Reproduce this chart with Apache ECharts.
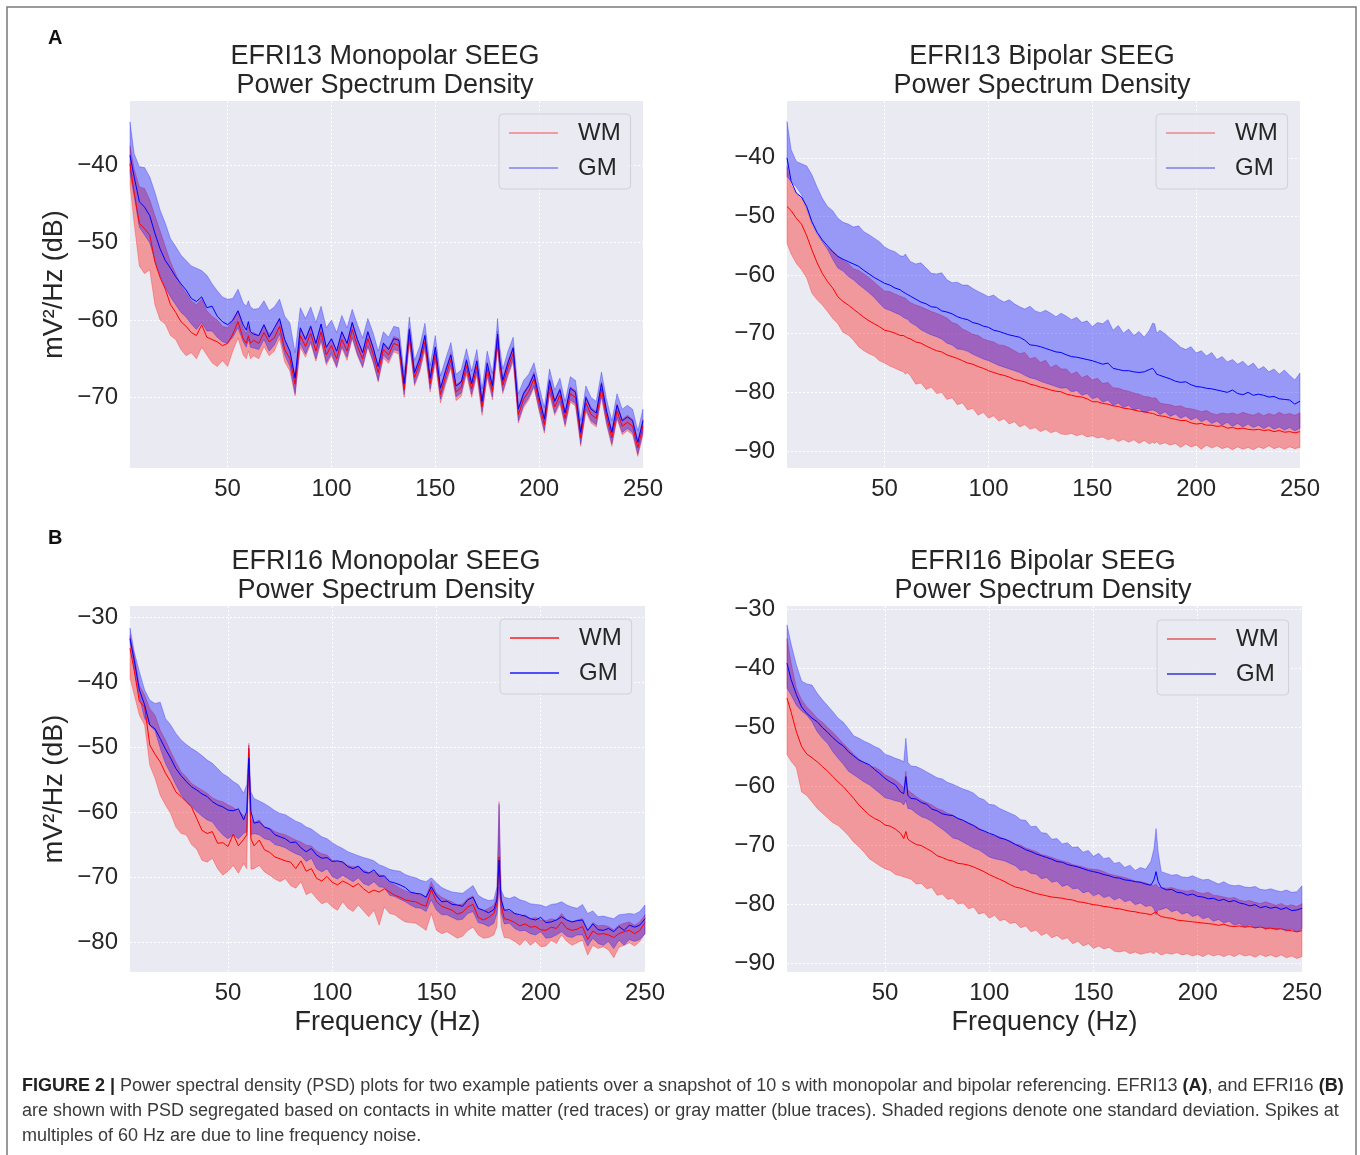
<!DOCTYPE html>
<html>
<head>
<meta charset="utf-8">
<title>PSD monopolar / bipolar SEEG</title>
<script src="https://cdn.jsdelivr.net/npm/echarts@6.0.0/dist/echarts.min.js"></script>
<style>
  html, body { margin: 0; padding: 0; background: #ffffff; }
  #chart { width: 1360px; height: 1155px; }
</style>
</head>
<body>
<div id="chart"></div>
<script>
// frequency grid (Hz) shared by the four panels
var freqHz = [3, 5, 7.5, 10, 12.5, 15, 17.5, 20, 22.5,
  25, 27.5, 30, 32.5, 35, 37.5, 40, 42.5, 45, 47.5,
  50, 52.5, 55, 57.5, 59, 60, 61,
  62.5, 65, 67.5, 70, 72.5, 75, 77.5, 80, 82.5, 85,
  87.5, 90, 92.5, 95, 97.5, 100, 102.5, 105, 107.5, 110,
  112.5, 115, 117.5, 120, 122.5, 125, 127.5, 130, 132.5, 135,
  137.5, 140, 142.5, 145, 147.5, 150, 152.5, 155, 157.5, 160,
  162.5, 165, 167.5, 170, 172.5, 175, 177.5,
  179, 180, 181,
  182.5, 185, 187.5, 190, 192.5, 195, 197.5, 200, 202.5, 205,
  207.5, 210, 212.5, 215, 217.5, 220, 222.5, 225, 227.5, 230,
  232.5, 235, 237.5, 240, 242.5, 245, 247.5, 250];

var freqTicks = [50, 100, 150, 200, 250];
var e13MonoTicks = [-70, -60, -50, -40];
var e13BipTicks = [-90, -80, -70, -60, -50, -40];
var e16MonoTicks = [-80, -70, -60, -50, -40, -30];
var e16BipTicks = [-90, -80, -70, -60, -50, -40, -30];

// ---- EFRI13 monopolar (dB)
var e13MonoGmMean = [-38.7, -41.5, -44.7, -45.4, -46.5, -48.8, -50.8, -52.3, -53.3,
  -54.4, -55.3, -56.1, -57.2, -57.6, -57.0, -58.4, -58.2, -59.5, -60.2,
  -60.6, -60.0, -58.8, -60.6, -61.3, -60.2, -61.5,
  -61.8, -62.0, -60.6, -62.2, -61.0, -59.8, -62.5, -64.0, -67.5, -61.0,
  -62.5, -60.8, -63.0, -60.5, -63.5, -62.4, -64.0, -61.5, -63.0, -60.3,
  -62.5, -64.2, -61.5, -63.5, -66.0, -63.0, -63.8, -62.4, -62.6, -68.2,
  -61.2, -66.8, -65.0, -62.0, -67.5, -63.5, -68.8, -66.5, -64.5, -68.5,
  -68.0, -65.2, -68.2, -65.3, -70.5, -65.6, -68.5,
  -64.5, -61.8, -65.0,
  -67.8, -65.5, -63.6, -71.5, -69.5, -68.5, -67.0, -70.0, -72.8, -67.8,
  -70.5, -69.0, -72.0, -68.8, -69.3, -74.5, -70.0, -71.5, -72.0, -68.2,
  -71.8, -74.5, -71.0, -73.0, -72.5, -73.0, -75.8, -73.0];
var e13MonoGmHi = [-34.4, -38.5, -40.2, -40.3, -41.5, -43.5, -45.8, -47.5, -49.5,
  -50.5, -51.6, -52.3, -53.0, -53.3, -53.6, -54.2, -55.3, -56.2, -57.0,
  -57.3, -57.2, -56.0, -57.8, -58.2, -57.5, -58.3,
  -58.6, -58.5, -57.5, -58.8, -58.3, -57.3, -59.5, -60.4, -64.2, -58.4,
  -59.8, -58.3, -60.3, -58.2, -61.0, -60.0, -61.6, -59.4, -61.0, -58.6,
  -60.6, -62.3, -59.8, -61.6, -64.0, -61.5, -62.2, -60.8, -61.0, -66.8,
  -59.6, -65.2, -63.4, -60.4, -65.9, -62.0, -67.2, -65.0, -62.9, -67.0,
  -66.4, -63.7, -66.6, -63.8, -68.9, -64.0, -66.9,
  -63.0, -59.8, -63.4,
  -66.3, -64.0, -62.2, -69.5, -67.8, -67.0, -65.5, -68.5, -71.3, -66.3,
  -69.0, -67.5, -70.5, -67.3, -67.8, -73.0, -68.5, -70.0, -70.5, -66.7,
  -70.3, -73.0, -69.5, -71.5, -71.0, -71.5, -74.3, -71.5];
var e13MonoGmLo = [-41.0, -44.0, -48.0, -49.0, -50.0, -52.3, -54.3, -55.8, -57.0,
  -58.0, -59.0, -59.6, -60.5, -61.2, -60.3, -61.4, -61.4, -62.2, -62.8,
  -63.0, -62.2, -61.0, -62.8, -63.5, -62.5, -63.5,
  -63.6, -63.8, -62.5, -64.0, -63.2, -61.8, -64.5, -66.0, -69.5, -63.0,
  -64.4, -62.8, -65.0, -62.5, -65.5, -64.3, -66.0, -63.4, -64.8, -62.2,
  -64.4, -66.0, -63.3, -65.3, -67.8, -64.5, -65.2, -63.8, -64.0, -69.6,
  -62.6, -68.2, -66.4, -63.4, -68.9, -65.0, -70.2, -67.9, -65.9, -69.9,
  -69.4, -66.6, -69.6, -66.7, -71.9, -67.0, -69.9,
  -66.0, -63.4, -66.5,
  -69.2, -67.0, -65.0, -73.0, -71.0, -70.0, -68.5, -71.5, -74.3, -69.3,
  -72.0, -70.5, -73.5, -70.3, -70.8, -76.0, -71.5, -73.0, -73.5, -69.7,
  -73.3, -76.0, -72.5, -74.5, -74.0, -74.5, -77.3, -74.5];
var e13MonoWmMean = [-39.8, -43.5, -47.5, -48.2, -49.0, -52.5, -54.5, -56.0, -58.0,
  -59.0, -60.2, -60.8, -61.6, -62.0, -60.6, -62.2, -62.5, -62.8, -63.3,
  -63.0, -61.8, -60.2, -62.4, -63.0, -62.0, -63.0,
  -62.6, -63.0, -61.6, -62.8, -62.3, -60.8, -63.8, -65.0, -68.3, -62.0,
  -63.4, -61.7, -64.0, -61.5, -64.5, -63.3, -65.0, -62.5, -64.0, -61.2,
  -63.4, -65.0, -62.4, -64.3, -66.8, -63.8, -64.5, -63.0, -63.3, -69.0,
  -61.9, -67.4, -65.6, -62.8, -68.2, -64.3, -69.6, -67.2, -65.1, -69.3,
  -68.7, -65.9, -68.9, -66.0, -71.2, -66.3, -69.2,
  -65.2, -62.4, -65.6,
  -68.4, -66.1, -64.3, -72.2, -70.2, -69.2, -67.6, -70.7, -73.5, -68.5,
  -71.2, -69.7, -72.7, -69.5, -70.0, -75.2, -70.7, -72.2, -72.7, -68.9,
  -72.5, -75.2, -71.7, -73.7, -73.2, -73.7, -76.5, -73.7];
var e13MonoWmHi = [-37.5, -40.5, -42.8, -43.0, -44.5, -46.5, -48.5, -50.5, -52.5,
  -54.0, -55.5, -56.5, -57.5, -58.0, -57.3, -58.8, -59.5, -60.0, -60.8,
  -61.0, -60.0, -58.8, -61.0, -61.8, -60.8, -61.8,
  -61.6, -62.0, -60.6, -61.8, -61.3, -59.8, -62.8, -64.0, -67.3, -61.0,
  -62.4, -60.7, -63.0, -60.6, -63.6, -62.4, -64.1, -61.6, -63.1, -60.3,
  -62.5, -64.1, -61.5, -63.4, -65.9, -62.9, -63.6, -62.1, -62.4, -68.0,
  -61.0, -66.5, -64.7, -61.9, -67.3, -63.4, -68.7, -66.3, -64.2, -68.4,
  -67.8, -65.0, -68.0, -65.1, -70.3, -65.4, -68.3,
  -64.3, -61.4, -64.7,
  -67.5, -65.2, -63.4, -71.3, -69.3, -68.3, -66.7, -69.8, -72.6, -67.6,
  -70.3, -68.8, -71.8, -68.6, -69.1, -74.3, -69.8, -71.3, -71.8, -68.0,
  -71.6, -74.3, -70.8, -72.8, -72.3, -72.8, -75.6, -72.8];
var e13MonoWmLo = [-42.5, -47.5, -53.0, -54.0, -53.5, -58.0, -60.0, -60.5, -62.0,
  -62.5, -63.8, -64.6, -64.2, -65.0, -63.5, -64.5, -65.5, -66.0, -65.2,
  -66.0, -64.0, -62.3, -64.5, -65.0, -64.0, -65.0,
  -64.6, -65.0, -63.4, -64.6, -64.0, -62.4, -65.4, -66.6, -69.8, -63.5,
  -64.8, -63.0, -65.3, -62.8, -65.8, -64.6, -66.2, -63.6, -65.2, -62.4,
  -64.6, -66.2, -63.5, -65.4, -68.0, -64.9, -65.6, -64.1, -64.4, -70.0,
  -63.0, -68.5, -66.7, -63.9, -69.3, -65.4, -70.7, -68.3, -66.2, -70.4,
  -69.8, -67.0, -70.0, -67.1, -72.3, -67.4, -70.3,
  -66.3, -63.6, -66.7,
  -69.5, -67.2, -65.4, -73.3, -71.3, -70.3, -68.7, -71.8, -74.6, -69.6,
  -72.3, -70.8, -73.8, -70.6, -71.1, -76.3, -71.8, -73.3, -73.8, -70.0,
  -73.6, -76.3, -72.8, -74.8, -74.3, -74.8, -77.6, -74.8];

// ---- EFRI13 bipolar (dB)
var e13BipGmMean = [-40.0, -44.0, -46.0, -46.7, -48.3, -50.9, -52.7, -54.0, -55.0,
  -56.0, -56.8, -57.3, -57.7, -58.1, -58.5, -59.2, -59.8, -60.4, -60.9,
  -61.4, -61.7, -62.2, -62.5, -62.9, -63.1, -63.3,
  -63.6, -64.1, -64.6, -64.9, -65.4, -65.5, -66.1, -66.3, -66.6, -67.1,
  -67.4, -67.6, -68.1, -68.3, -68.7, -68.9, -69.4, -69.6, -69.9, -70.2,
  -70.4, -70.6, -71.1, -71.9, -72.0, -72.2, -72.5, -72.8, -73.1, -73.2,
  -73.6, -73.9, -74.0, -74.2, -74.4, -74.6, -74.9, -75.2, -75.0, -75.9,
  -76.1, -76.3, -76.3, -76.5, -76.6, -76.5, -76.1,
  -75.9, -76.3, -76.9,
  -77.1, -77.4, -77.7, -78.1, -78.3, -78.2, -78.7, -79.0, -79.1, -79.3,
  -79.4, -79.6, -79.8, -80.0, -79.6, -80.2, -80.4, -80.0, -80.5, -80.3,
  -80.5, -80.8, -80.7, -81.1, -81.2, -81.3, -82.0, -81.5];
var e13BipGmHi = [-33.8, -38.6, -40.6, -41.0, -41.4, -42.9, -45.0, -46.9, -48.3,
  -49.0, -50.3, -51.0, -51.3, -51.8, -51.6, -52.6, -53.1, -53.7, -54.3,
  -55.2, -55.7, -56.0, -56.7, -56.8, -56.4, -57.0,
  -57.7, -58.1, -57.9, -58.8, -59.7, -59.8, -59.6, -60.8, -61.3, -61.2,
  -61.7, -61.7, -62.3, -62.8, -63.2, -63.7, -63.4, -64.1, -64.6, -64.2,
  -64.9, -65.4, -65.8, -65.3, -66.1, -66.4, -66.0, -66.5, -67.1, -66.5,
  -67.0, -67.6, -67.2, -68.1, -67.8, -68.8, -68.1, -68.3, -67.6, -69.4,
  -68.6, -69.9, -69.2, -70.3, -69.6, -70.6, -69.4,
  -68.2, -68.3, -69.9,
  -69.4, -70.0, -70.8, -71.5, -72.3, -72.7, -72.2, -73.3, -72.9, -73.8,
  -73.2, -74.4, -73.9, -74.8, -74.4, -75.2, -74.7, -75.6, -75.0, -76.1,
  -75.6, -76.5, -76.0, -76.9, -76.2, -77.1, -77.9, -76.7];
var e13BipGmLo = [-43.2, -44.0, -45.0, -46.3, -48.6, -51.1, -52.9, -54.3, -55.6,
  -57.3, -58.8, -59.3, -60.2, -60.8, -61.6, -62.3, -63.0, -63.8, -64.8,
  -65.7, -66.0, -66.4, -66.8, -67.2, -67.4, -67.5,
  -68.1, -68.6, -69.3, -69.8, -70.2, -70.5, -70.9, -71.6, -71.9, -72.6,
  -72.7, -73.0, -73.5, -73.9, -74.3, -74.6, -75.0, -75.4, -75.7, -76.0,
  -76.3, -76.6, -77.1, -77.5, -77.7, -78.1, -78.4, -78.7, -79.0, -79.3,
  -79.2, -79.9, -79.7, -80.5, -80.2, -81.1, -80.8, -81.7, -81.3, -82.2,
  -81.8, -82.6, -82.2, -83.0, -82.7, -83.5, -83.1,
  -83.0, -83.1, -83.3,
  -83.8, -83.3, -84.1, -83.7, -84.4, -84.0, -84.7, -84.3, -85.0, -84.6,
  -85.3, -84.9, -85.6, -85.1, -85.8, -85.3, -85.9, -85.4, -86.0, -85.6,
  -86.2, -85.7, -86.3, -85.9, -86.4, -86.0, -86.6, -86.1];
var e13BipWmMean = [-48.3, -49.0, -50.3, -51.3, -53.3, -55.7, -57.9, -59.7, -61.1,
  -62.2, -63.7, -64.5, -65.1, -65.8, -66.5, -67.2, -67.8, -68.3, -68.8,
  -69.4, -69.6, -69.9, -70.3, -70.3, -70.5, -70.7,
  -70.9, -71.4, -71.6, -72.1, -72.5, -72.9, -73.1, -73.6, -73.9, -74.2,
  -74.6, -75.0, -75.2, -75.6, -75.9, -76.3, -76.6, -76.9, -77.1, -77.4,
  -77.8, -78.0, -78.2, -78.6, -78.8, -79.1, -79.3, -79.6, -79.8, -79.9,
  -80.3, -80.5, -80.7, -80.8, -81.1, -81.6, -81.6, -81.9, -82.0, -82.3,
  -82.4, -82.7, -82.8, -83.0, -83.2, -83.3, -83.5,
  -83.6, -83.7, -83.9,
  -84.0, -84.1, -84.4, -84.6, -84.8, -84.8, -85.2, -85.4, -85.3, -85.6,
  -85.6, -85.8, -85.7, -86.1, -86.0, -86.2, -86.1, -86.3, -86.4, -86.3,
  -86.5, -86.4, -86.7, -86.5, -86.8, -86.7, -86.9, -86.7];
var e13BipWmHi = [-41.5, -44.6, -46.1, -46.7, -48.9, -51.4, -53.1, -54.3, -55.4,
  -55.9, -56.8, -57.5, -58.0, -58.9, -59.2, -59.8, -60.4, -61.2, -62.0,
  -62.7, -62.8, -63.2, -63.6, -63.8, -63.9, -64.3,
  -64.7, -65.1, -65.4, -65.8, -66.2, -66.5, -66.9, -67.3, -68.1, -68.4,
  -69.2, -69.6, -70.1, -70.3, -70.9, -71.2, -71.4, -71.9, -72.0, -72.4,
  -72.9, -73.4, -73.2, -74.3, -74.0, -74.9, -74.5, -75.8, -75.3, -76.0,
  -76.0, -76.9, -76.5, -77.5, -77.1, -77.9, -77.6, -78.5, -78.3, -79.2,
  -79.3, -79.6, -79.8, -80.1, -80.3, -80.7, -80.8,
  -81.0, -80.9, -81.1,
  -81.8, -82.0, -82.1, -82.4, -82.3, -82.7, -82.8, -83.0, -83.3, -83.1,
  -83.6, -83.8, -83.5, -83.7, -83.5, -83.8, -83.4, -83.7, -83.9, -83.5,
  -84.0, -83.6, -83.9, -83.4, -83.8, -83.6, -83.9, -83.5];
var e13BipWmLo = [-54.6, -56.4, -58.0, -59.1, -60.5, -63.1, -64.2, -65.1, -66.2,
  -67.4, -68.3, -69.8, -70.2, -71.1, -72.2, -72.9, -73.4, -73.8, -74.6,
  -75.0, -75.5, -75.9, -76.3, -76.5, -76.9, -76.6,
  -77.2, -78.6, -78.4, -79.5, -79.1, -80.2, -80.0, -81.2, -80.9, -82.1,
  -81.8, -83.0, -82.7, -83.9, -83.4, -84.4, -84.0, -84.9, -84.5, -85.4,
  -85.0, -85.9, -85.5, -86.3, -86.0, -86.7, -86.3, -86.9, -86.6, -87.1,
  -87.2, -87.0, -87.4, -87.1, -87.6, -87.4, -87.8, -87.6, -88.1, -87.8,
  -88.4, -88.0, -88.5, -88.1, -88.7, -88.2, -88.8,
  -88.5, -88.7, -88.4,
  -88.9, -88.6, -89.0, -88.7, -89.4, -88.8, -89.3, -89.0, -89.7, -89.0,
  -89.5, -89.1, -89.6, -89.3, -89.8, -89.3, -89.7, -89.4, -89.8, -89.3,
  -89.6, -89.1, -89.6, -89.3, -89.7, -89.3, -89.6, -89.4];

// ---- EFRI16 monopolar (dB)
var e16MonoGmMean = [-33.3, -36.6, -41.2, -43.5, -46.6, -47.2, -48.7, -50.3, -51.7,
  -53.3, -54.4, -55.3, -56.1, -56.6, -57.2, -57.6, -58.4, -58.9, -59.2,
  -59.7, -59.8, -59.5, -61.2, -59.9, -51.7, -59.9,
  -61.7, -61.5, -62.3, -62.6, -63.5, -63.8, -64.1, -64.7, -64.6, -65.5,
  -66.1, -65.6, -66.6, -67.1, -67.0, -67.6, -67.5, -67.7, -68.4, -68.7,
  -68.3, -69.2, -69.4, -68.9, -69.9, -69.8, -70.7, -70.9, -71.2, -71.6,
  -72.3, -72.5, -72.6, -73.1, -71.5, -72.9, -73.8, -73.7, -74.2, -74.3,
  -74.5, -73.5, -73.1, -74.8, -75.1, -75.5, -75.0,
  -73.5, -67.4, -73.5,
  -75.1, -75.0, -75.6, -75.8, -76.0, -76.4, -76.6, -76.2, -77.0, -76.9,
  -76.6, -76.1, -76.6, -76.9, -76.7, -76.6, -78.2, -77.2, -78.1, -78.2,
  -77.9, -78.4, -77.6, -78.2, -77.4, -77.7, -77.4, -76.4];
var e16MonoGmHi = [-31.7, -35.3, -38.4, -41.2, -42.8, -43.3, -43.1, -45.6, -46.6,
  -47.9, -48.9, -49.6, -50.2, -50.7, -51.3, -52.0, -52.5, -53.3, -54.1,
  -54.6, -55.3, -55.8, -57.1, -55.8, -49.7, -56.9,
  -57.9, -58.3, -58.7, -59.2, -59.8, -60.2, -60.4, -60.9, -61.4, -61.7,
  -62.3, -62.6, -63.2, -63.8, -64.1, -64.7, -65.2, -65.6, -66.1, -66.4,
  -66.7, -67.0, -67.2, -67.5, -68.1, -68.4, -68.8, -69.0, -69.1, -69.6,
  -69.9, -70.1, -70.5, -70.7, -70.1, -70.9, -71.6, -72.0, -72.3, -72.4,
  -72.5, -71.9, -71.3, -72.8, -73.3, -73.6, -73.5,
  -71.5, -58.8, -72.0,
  -73.1, -73.3, -73.0, -73.5, -73.7, -74.1, -74.2, -74.3, -74.6, -74.2,
  -74.1, -73.8, -74.3, -74.6, -74.8, -74.2, -75.6, -75.2, -76.1, -76.0,
  -76.2, -76.4, -75.8, -75.7, -75.6, -75.7, -75.3, -74.3];
var e16MonoGmLo = [-33.8, -37.9, -42.3, -45.6, -46.7, -47.5, -50.2, -52.5, -54.1,
  -55.8, -57.3, -58.4, -59.1, -59.9, -60.6, -61.2, -61.5, -62.6, -63.5,
  -64.1, -63.5, -64.1, -63.3, -63.0, -52.3, -63.5,
  -63.3, -63.5, -64.1, -64.3, -65.0, -65.2, -65.5, -66.0, -66.4, -66.7,
  -67.6, -67.1, -68.7, -69.2, -68.7, -69.9, -70.3, -69.7, -70.2, -70.7,
  -70.1, -71.0, -71.3, -70.7, -71.5, -71.6, -72.8, -73.0, -73.4, -73.8,
  -74.3, -74.7, -74.8, -75.3, -73.5, -75.1, -75.8, -75.8, -76.2, -76.6,
  -76.5, -75.6, -75.3, -77.0, -77.2, -77.6, -77.1,
  -75.6, -71.5, -75.6,
  -77.2, -77.1, -77.9, -78.3, -78.2, -78.7, -78.9, -78.4, -79.4, -79.3,
  -78.9, -78.4, -79.1, -79.3, -78.9, -78.9, -80.6, -79.4, -80.2, -80.5,
  -79.9, -81.0, -79.7, -80.5, -79.6, -79.9, -79.6, -78.7];
var e16MonoWmMean = [-34.8, -38.2, -43.0, -43.8, -49.7, -51.1, -52.3, -54.0, -55.3,
  -56.9, -57.6, -58.4, -59.2, -61.0, -62.8, -63.3, -63.0, -64.8, -64.7,
  -65.3, -63.4, -65.2, -64.2, -63.5, -50.2, -64.1,
  -65.2, -64.3, -65.8, -66.2, -66.9, -67.2, -67.5, -67.7, -68.7, -67.5,
  -69.1, -68.7, -70.2, -70.6, -69.9, -70.8, -71.2, -70.6, -71.0, -71.5,
  -71.0, -71.8, -72.4, -72.0, -72.3, -71.8, -72.3, -72.8, -73.1, -73.5,
  -73.7, -73.8, -74.2, -74.5, -71.9, -73.8, -74.5, -74.8, -75.1, -75.7,
  -75.4, -74.6, -74.2, -76.2, -76.6, -76.2, -75.6,
  -74.1, -66.9, -74.3,
  -76.4, -76.6, -77.0, -77.5, -77.2, -77.7, -77.6, -78.1, -78.2, -77.7,
  -77.9, -76.9, -77.9, -78.2, -78.0, -77.6, -79.6, -78.3, -78.8, -78.7,
  -78.9, -79.3, -78.7, -78.4, -78.2, -78.7, -78.2, -77.0];
var e16MonoWmHi = [-32.8, -35.8, -40.5, -42.0, -44.1, -45.1, -47.4, -48.9, -50.7,
  -52.3, -53.8, -54.6, -55.6, -56.1, -56.6, -57.1, -57.8, -58.2, -58.4,
  -58.9, -59.3, -59.9, -60.5, -61.0, -49.4, -61.0,
  -61.6, -61.2, -62.3, -62.5, -63.0, -63.3, -63.5, -63.9, -64.3, -64.6,
  -65.1, -65.2, -66.0, -66.4, -66.6, -67.4, -67.6, -67.6, -68.2, -68.4,
  -68.4, -68.9, -69.3, -69.2, -69.6, -69.9, -70.9, -71.2, -71.7, -72.1,
  -72.4, -72.5, -72.8, -73.0, -70.7, -72.5, -73.1, -73.5, -73.8, -74.3,
  -74.1, -73.3, -72.9, -74.8, -75.2, -74.8, -74.3,
  -72.8, -58.4, -73.0,
  -75.1, -75.3, -75.6, -76.1, -75.8, -76.4, -76.2, -76.6, -76.7, -76.4,
  -76.6, -75.6, -76.6, -76.9, -76.6, -76.4, -78.2, -77.0, -77.5, -77.4,
  -77.6, -78.1, -77.4, -77.1, -76.9, -77.4, -76.9, -75.8];
var e16MonoWmLo = [-39.4, -41.9, -45.1, -46.6, -52.8, -54.8, -57.4, -58.9, -60.2,
  -62.3, -63.3, -63.5, -65.0, -65.7, -67.4, -67.7, -67.1, -68.7, -69.7,
  -69.1, -68.2, -69.4, -67.9, -68.7, -51.0, -68.8,
  -68.7, -68.2, -69.2, -69.7, -70.3, -70.7, -70.2, -71.3, -71.7, -70.7,
  -72.7, -72.3, -73.3, -74.1, -73.8, -74.6, -75.1, -73.8, -74.8, -75.3,
  -74.3, -75.2, -76.1, -75.1, -77.4, -74.6, -75.6, -75.8, -76.4, -76.9,
  -77.0, -77.1, -77.6, -78.2, -75.6, -78.2, -78.7, -78.4, -78.9, -79.4,
  -79.1, -78.2, -77.7, -78.9, -79.4, -79.3, -78.9,
  -77.6, -70.5, -77.6,
  -79.3, -79.4, -79.9, -80.5, -79.6, -80.5, -79.9, -80.7, -80.6, -79.7,
  -80.2, -78.9, -79.9, -80.5, -80.1, -79.7, -82.0, -80.5, -81.0, -80.7,
  -81.2, -82.4, -80.8, -80.5, -80.1, -80.6, -79.9, -78.7];

// ---- EFRI16 bipolar (dB)
var e16BipGmMean = [-39.2, -42.0, -44.5, -46.6, -47.7, -48.5, -49.1, -50.1, -50.9,
  -51.8, -52.6, -53.2, -54.2, -54.9, -55.6, -56.0, -56.4, -57.2, -57.9,
  -58.7, -59.3, -59.8, -61.0, -61.3, -58.4, -61.6,
  -62.1, -62.2, -62.8, -63.1, -63.9, -64.2, -64.7, -64.9, -65.0, -65.5,
  -65.8, -66.3, -66.7, -67.3, -67.6, -68.0, -68.3, -68.8, -69.0, -69.4,
  -69.9, -70.3, -70.8, -71.1, -71.5, -71.8, -72.1, -72.4, -72.8, -72.9,
  -73.3, -73.5, -73.7, -74.0, -74.3, -74.5, -74.7, -75.0, -75.2, -75.5,
  -75.6, -75.9, -76.0, -76.2, -76.3, -76.6, -76.8,
  -75.9, -74.5, -76.2,
  -77.2, -77.6, -77.5, -78.0, -78.1, -78.5, -78.3, -78.7, -78.8, -79.1,
  -79.0, -79.4, -79.2, -79.6, -79.4, -79.8, -80.0, -80.3, -80.1, -80.6,
  -80.4, -80.7, -80.5, -80.9, -80.6, -81.1, -81.0, -80.7];
var e16BipGmHi = [-32.7, -36.0, -39.5, -42.2, -42.7, -42.9, -44.3, -45.4, -46.4,
  -47.4, -48.5, -49.2, -50.3, -51.5, -51.9, -52.4, -52.8, -53.3, -53.7,
  -54.6, -54.9, -55.3, -55.6, -55.9, -51.9, -56.0,
  -56.6, -56.7, -57.1, -57.6, -58.1, -58.6, -58.8, -59.4, -59.7, -60.1,
  -60.5, -60.8, -61.2, -62.0, -62.3, -63.1, -63.2, -63.8, -64.2, -64.6,
  -65.0, -65.7, -65.8, -66.9, -66.8, -67.9, -68.0, -69.0, -68.9, -69.8,
  -69.6, -70.4, -70.3, -71.2, -70.9, -71.9, -71.4, -72.3, -72.1, -73.1,
  -72.9, -73.8, -73.4, -74.3, -73.8, -74.1, -72.8,
  -70.6, -67.2, -71.1,
  -74.5, -74.8, -75.1, -75.0, -75.4, -75.5, -75.2, -75.6, -75.9, -75.8,
  -76.2, -76.6, -76.2, -76.7, -76.9, -76.8, -77.1, -77.2, -77.0, -77.5,
  -77.6, -77.4, -77.7, -77.9, -77.6, -78.0, -77.9, -76.9];
var e16BipGmLo = [-43.4, -44.6, -46.3, -47.3, -48.0, -49.1, -50.8, -51.9, -52.8,
  -54.2, -55.3, -56.3, -57.5, -58.1, -58.7, -59.3, -59.8, -60.5, -61.2,
  -62.0, -62.2, -62.5, -62.7, -63.2, -62.4, -63.8,
  -63.9, -64.6, -65.2, -65.5, -66.0, -66.7, -67.3, -68.0, -68.8, -69.0,
  -69.5, -70.0, -70.5, -70.8, -71.4, -72.0, -72.3, -72.5, -72.7, -73.1,
  -73.5, -74.3, -74.2, -74.8, -74.9, -75.7, -75.5, -76.3, -76.1, -77.0,
  -76.7, -77.4, -77.3, -78.1, -77.8, -78.6, -78.2, -78.9, -78.6, -79.3,
  -78.9, -79.6, -79.3, -80.1, -79.8, -80.4, -80.2,
  -80.8, -81.8, -81.0,
  -80.9, -80.6, -81.3, -81.0, -81.7, -81.4, -82.1, -81.8, -82.5, -82.2,
  -82.9, -82.6, -83.2, -82.9, -83.6, -83.3, -83.9, -83.5, -84.1, -83.7,
  -84.3, -83.9, -84.4, -84.1, -84.6, -84.2, -84.7, -84.2];
var e16BipWmMean = [-45.1, -47.5, -50.8, -53.3, -54.6, -55.2, -55.9, -56.7, -57.5,
  -58.4, -59.3, -60.1, -61.1, -62.1, -63.2, -64.1, -64.9, -65.5, -65.9,
  -66.6, -66.8, -67.3, -68.0, -68.9, -67.7, -69.0,
  -69.4, -69.9, -70.1, -70.6, -71.1, -71.8, -72.1, -72.5, -72.7, -73.1,
  -73.2, -73.4, -73.7, -74.1, -74.5, -75.0, -75.4, -75.8, -76.2, -76.7,
  -77.1, -77.3, -77.6, -77.9, -78.2, -78.4, -78.6, -78.8, -78.9, -79.0,
  -79.2, -79.3, -79.6, -79.7, -79.9, -80.1, -80.2, -80.4, -80.5, -80.7,
  -80.8, -81.0, -81.2, -81.3, -81.5, -81.6, -81.8,
  -81.5, -81.3, -81.8,
  -82.1, -82.3, -82.4, -82.7, -82.8, -82.9, -83.0, -83.1, -83.2, -83.3,
  -83.4, -83.6, -83.4, -83.7, -83.8, -83.7, -83.9, -83.8, -84.0, -83.9,
  -84.1, -84.1, -84.2, -84.2, -84.4, -84.5, -84.7, -84.5];
var e16BipWmHi = [-35.0, -39.2, -43.4, -45.4, -46.6, -47.5, -48.5, -49.2, -50.1,
  -50.9, -51.8, -52.8, -53.7, -54.6, -55.4, -56.1, -56.6, -56.8, -57.3,
  -58.1, -58.5, -59.0, -59.7, -60.4, -57.5, -60.7,
  -61.1, -61.8, -62.4, -62.8, -63.2, -63.8, -64.1, -64.6, -64.9, -65.5,
  -65.9, -66.2, -66.6, -67.1, -67.7, -68.2, -68.4, -68.6, -69.0, -69.3,
  -69.8, -70.0, -70.5, -70.8, -71.1, -71.6, -71.8, -72.1, -72.4, -72.7,
  -72.9, -73.3, -73.5, -73.7, -74.0, -74.1, -74.2, -74.5, -74.9, -75.1,
  -75.3, -75.5, -75.8, -76.1, -76.2, -76.4, -76.7,
  -76.9, -76.6, -77.1,
  -77.2, -77.3, -77.2, -77.5, -77.7, -77.8, -77.6, -78.0, -78.2, -78.0,
  -78.5, -78.6, -78.8, -79.0, -78.9, -79.3, -79.5, -79.4, -79.7, -79.9,
  -79.6, -79.9, -80.2, -79.9, -80.3, -80.1, -80.4, -79.9];
var e16BipWmLo = [-54.7, -55.8, -56.9, -61.0, -61.6, -62.7, -63.8, -64.6, -65.4,
  -66.2, -66.7, -67.5, -68.4, -69.5, -70.3, -71.2, -72.3, -72.9, -73.5,
  -74.0, -74.3, -75.0, -75.2, -75.4, -75.5, -75.6,
  -75.8, -76.6, -76.5, -77.4, -77.2, -78.5, -78.3, -79.2, -79.0, -80.0,
  -79.8, -80.8, -80.5, -81.7, -81.4, -82.4, -81.9, -82.8, -82.6, -83.3,
  -83.1, -84.0, -83.7, -84.7, -84.4, -85.3, -84.9, -85.7, -85.3, -86.0,
  -85.7, -86.7, -86.3, -87.1, -86.7, -87.5, -87.1, -87.6, -87.3, -88.0,
  -88.1, -87.9, -88.4, -88.1, -88.5, -88.3, -88.1,
  -88.4, -88.0, -88.3,
  -88.6, -88.3, -88.5, -88.2, -88.6, -88.4, -88.8, -88.5, -88.9, -88.4,
  -88.8, -88.5, -88.9, -88.5, -88.9, -88.4, -88.8, -88.6, -89.0, -88.5,
  -88.9, -88.6, -89.0, -88.6, -89.1, -88.8, -89.2, -88.9];

var textColor = '#262626';
var fontFamily = '"Liberation Sans", Arial, Helvetica, sans-serif';
var wmFill = 'rgba(255,0,0,0.35)';
var gmFill = 'rgba(0,0,255,0.35)';

var panels = [
  { box: { left: 130, top: 101, width: 513, height: 367 }, yMin: -79.1, yMax: -31.7, yTicks: e13MonoTicks,
    wm: [e13MonoWmMean, e13MonoWmLo, e13MonoWmHi], gm: [e13MonoGmMean, e13MonoGmLo, e13MonoGmHi],
    legend: [499, 114], legendColors: ['#f28080', '#8080f2'],
    title: 'EFRI13 Monopolar SEEG\nPower Spectrum Density', titleX: 385, titleY: 42.5,
    yName: true, xName: false },
  { box: { left: 787, top: 101, width: 513, height: 367 }, yMin: -92.9, yMax: -30.3, yTicks: e13BipTicks,
    wm: [e13BipWmMean, e13BipWmLo, e13BipWmHi], gm: [e13BipGmMean, e13BipGmLo, e13BipGmHi],
    legend: [1156, 114], legendColors: ['#e58a8a', '#7c7ce6'],
    title: 'EFRI13 Bipolar SEEG\nPower Spectrum Density', titleX: 1042, titleY: 42.5,
    yName: false, xName: false },
  { box: { left: 130, top: 606, width: 515, height: 366 }, yMin: -84.6, yMax: -28.3, yTicks: e16MonoTicks,
    wm: [e16MonoWmMean, e16MonoWmLo, e16MonoWmHi], gm: [e16MonoGmMean, e16MonoGmLo, e16MonoGmHi],
    legend: [500, 619], legendColors: ['#ff1a1a', '#1a1aff'],
    title: 'EFRI16 Monopolar SEEG\nPower Spectrum Density', titleX: 386, titleY: 547.5,
    yName: true, xName: true },
  { box: { left: 787, top: 606, width: 515, height: 366 }, yMin: -91.5, yMax: -29.5, yTicks: e16BipTicks,
    wm: [e16BipWmMean, e16BipWmLo, e16BipWmHi], gm: [e16BipGmMean, e16BipGmLo, e16BipGmHi],
    legend: [1157, 620], legendColors: ['#e05a5a', '#3434cc'],
    title: 'EFRI16 Bipolar SEEG\nPower Spectrum Density', titleX: 1043, titleY: 547.5,
    yName: false, xName: true }
];

function minusLabel(v) {
  return v < 0 ? '\u2212' + Math.abs(v) : String(v);
}

function pairs(vals) {
  if (vals.length !== freqHz.length) console.error('length mismatch', vals.length);
  return freqHz.map(function (f, i) { return [f, vals[i]]; });
}

// shaded band between lower and upper edge, drawn as one polygon through the axis scales
function bandSeries(k, lo, hi, fill) {
  return {
    type: 'custom', xAxisIndex: k, yAxisIndex: k, silent: true,
    data: pairs(hi),
    renderItem: function (params, api) {
      if (params.dataIndex !== 0) return null;
      var pts = [];
      for (var i = 0; i < freqHz.length; i++) pts.push(api.coord([freqHz[i], hi[i]]));
      for (var j = freqHz.length - 1; j >= 0; j--) pts.push(api.coord([freqHz[j], lo[j]]));
      return {
        type: 'polygon', shape: { points: pts },
        style: { fill: fill, stroke: fill, lineWidth: 0.8 }
      };
    }
  };
}

function meanSeries(k, name, vals, color) {
  return {
    name: name, type: 'line', xAxisIndex: k, yAxisIndex: k,
    data: pairs(vals), symbol: 'none', silent: true,
    lineStyle: { color: color, width: 1 }, itemStyle: { color: color }
  };
}

var grids = [], xAxes = [], yAxes = [], series = [], legends = [];
var titles = [
  { text: 'A', left: 48, top: 28, padding: 0, textStyle: { fontSize: 20, fontWeight: 'bold', color: '#111', lineHeight: 20, fontFamily: fontFamily } },
  { text: 'B', left: 48, top: 528, padding: 0, textStyle: { fontSize: 20, fontWeight: 'bold', color: '#111', lineHeight: 20, fontFamily: fontFamily } }
];

panels.forEach(function (p, k) {
  grids.push({ left: p.box.left, top: p.box.top, width: p.box.width, height: p.box.height,
    show: true, backgroundColor: '#EAEAF2', borderWidth: 0, containLabel: false });
  xAxes.push({
    type: 'value', gridIndex: k, min: 3, max: 250,
    axisLine: { show: false },
    axisTick: { show: false, customValues: freqTicks },
    axisLabel: { customValues: freqTicks, fontSize: 24, color: textColor, margin: 9, fontFamily: fontFamily },
    splitLine: { show: true, lineStyle: { color: '#ffffff', width: 1, type: [2, 2] } },
    name: p.xName ? 'Frequency (Hz)' : '', nameLocation: 'middle', nameGap: 37,
    nameTextStyle: { fontSize: 27, color: textColor, fontFamily: fontFamily }
  });
  yAxes.push({
    type: 'value', gridIndex: k, min: p.yMin, max: p.yMax,
    axisLine: { show: false },
    axisTick: { show: false, customValues: p.yTicks },
    axisLabel: { customValues: p.yTicks, formatter: minusLabel, fontSize: 24, color: textColor, margin: 12, fontFamily: fontFamily },
    splitLine: { show: true, lineStyle: { color: '#ffffff', width: 1, type: [2, 2] } },
    name: p.yName ? 'mV\u00b2/Hz (dB)' : '', nameLocation: 'middle', nameGap: 62, nameRotate: 90,
    nameTextStyle: { fontSize: 27, color: textColor, fontFamily: fontFamily }
  });
  series.push(bandSeries(k, p.wm[1], p.wm[2], wmFill));
  series.push(bandSeries(k, p.gm[1], p.gm[2], gmFill));
  series.push(meanSeries(k, 'WM', p.wm[0], '#ff0000'));
  series.push(meanSeries(k, 'GM', p.gm[0], '#0000ff'));
  legends.push({
    left: p.legend[0], top: p.legend[1], orient: 'vertical', selectedMode: false,
    data: [{ name: 'WM', itemStyle: { color: p.legendColors[0] } },
           { name: 'GM', itemStyle: { color: p.legendColors[1] } }],
    icon: 'rect', itemWidth: 49, itemHeight: 1.5, itemGap: 11, padding: [7, 10, 9, 10],
    backgroundColor: 'rgba(234,234,242,0.85)', borderColor: '#d0d0d6', borderWidth: 1, borderRadius: 4,
    textStyle: { fontSize: 24, color: textColor, fontFamily: fontFamily, padding: [0, 0, 0, 15] }
  });
  titles.push({
    text: p.title, left: p.titleX, top: p.titleY, textAlign: 'center', padding: 0,
    textStyle: { fontSize: 27, lineHeight: 29, fontWeight: 'normal', color: textColor, fontFamily: fontFamily }
  });
});

var captionLines = [
  '{b|FIGURE 2 |} Power spectral density (PSD) plots for two example patients over a snapshot of 10 s with monopolar and bipolar referencing. EFRI13 {b|(A)}, and EFRI16 {b|(B)}',
  'are shown with PSD segregated based on contacts in white matter (red traces) or gray matter (blue traces). Shaded regions denote one standard deviation. Spikes at',
  'multiples of 60 Hz are due to line frequency noise.'
];
captionLines.forEach(function (line, i) {
  titles.push({
    text: line, left: 22, top: 1076 + i * 25, padding: 0,
    textStyle: {
      fontSize: 18, lineHeight: 20, fontWeight: 'normal', color: '#3a3a3a', fontFamily: fontFamily,
      rich: { b: { fontSize: 18, lineHeight: 20, fontWeight: 'bold', color: '#222', fontFamily: fontFamily } }
    }
  });
});

var chart = echarts.init(document.getElementById('chart'), null, { renderer: 'canvas' });
chart.setOption({
  backgroundColor: '#ffffff',
  animation: false,
  textStyle: { fontFamily: fontFamily },
  title: titles,
  legend: legends,
  grid: grids,
  xAxis: xAxes,
  yAxis: yAxes,
  series: series,
  graphic: [{
    type: 'polyline', silent: true,
    shape: { points: [[7, 1160], [7, 7], [1356, 7], [1356, 1160]] },
    style: { stroke: '#7a7a7a', lineWidth: 1.5, fill: 'none' }
  }]
});
</script>
</body>
</html>
